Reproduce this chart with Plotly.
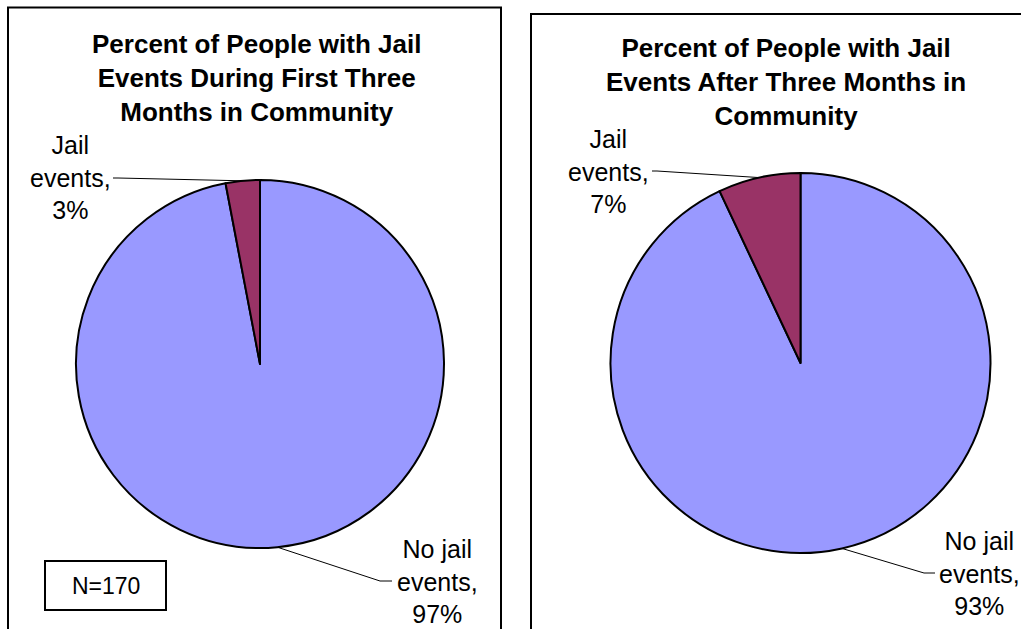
import math
import plotly.graph_objects as go

W, H = 1021, 629

# Slice data, listed in clockwise order from 12 o'clock
categories = ["No jail events", "Jail events"]
first_three_months = [97, 3]
after_three_months = [93, 7]
slice_colors = ["#9999FF", "#993366"]

titles = [
    "Percent of People with Jail<br>Events During First Three<br>Months in Community",
    "Percent of People with Jail<br>Events After Three Months in<br>Community",
]
label_lines = {"No jail events": "No jail<br>events,", "Jail events": "Jail<br>events,"}
sample_note = "N=170"

FONT = "Liberation Sans, Arial, sans-serif"


def fx(px):
    return px / W


def fy(py):
    return 1 - py / H


# Pie layout (pixel centre and radius) for each panel
panels = [
    dict(values=first_three_months, cx=260, cy=364, r=184, title=titles[0], title_x=256, title_y=78,
         labels={"Jail events": dict(x=70, y=178, stub=(113, 118)),
                 "No jail events": dict(x=437, y=581, stub=(392, 380))}),
    dict(values=after_three_months, cx=800.5, cy=363, r=190, title=titles[1], title_x=786, title_y=82,
         labels={"Jail events": dict(x=608, y=171, stub=(652, 657)),
                 "No jail events": dict(x=979, y=573, stub=(935, 924))}),
]

fig = go.Figure()
annotations = []
shapes = []

# Panel frames
shapes.append(dict(type="rect", xref="paper", yref="paper", x0=fx(8), x1=fx(501), y0=fy(660), y1=fy(7.5),
                   line=dict(color="black", width=2), layer="below"))
shapes.append(dict(type="rect", xref="paper", yref="paper", x0=fx(531), x1=fx(1060), y0=fy(660), y1=fy(14),
                   line=dict(color="black", width=2), layer="below"))

for p in panels:
    cx, cy, r = p["cx"], p["cy"], p["r"]
    fig.add_trace(go.Pie(
        labels=categories,
        values=p["values"],
        sort=False,
        direction="clockwise",
        rotation=0,
        marker=dict(colors=slice_colors, line=dict(color="black", width=2)),
        textinfo="none",
        hoverinfo="label+percent",
        showlegend=False,
        domain=dict(x=[fx(cx - r), fx(cx + r)], y=[fy(cy + r), fy(cy - r)]),
    ))

    annotations.append(dict(text=p["title"], x=fx(p["title_x"]), y=fy(p["title_y"]), xref="paper", yref="paper",
                            showarrow=False, xanchor="center", yanchor="middle",
                            font=dict(family=FONT, size=26, color="black", weight="bold")))

    total = sum(p["values"])
    start = 0.0
    for cat, val in zip(categories, p["values"]):
        mid = (start + val / 2) / total * 2 * math.pi
        start += val
        ex = cx + r * math.sin(mid)
        ey = cy - r * math.cos(mid)
        lab = p["labels"][cat]
        annotations.append(dict(text=f"{label_lines[cat]}<br>{val}%", x=fx(lab["x"]), y=fy(lab["y"]),
                                xref="paper", yref="paper", showarrow=False,
                                xanchor="center", yanchor="middle",
                                font=dict(family=FONT, size=25, color="black")))
        s0, s1 = lab["stub"]
        ly = lab["y"]
        path = f"M {fx(s0)},{fy(ly)} L {fx(s1)},{fy(ly)} L {fx(ex)},{fy(ey)}"
        shapes.append(dict(type="path", xref="paper", yref="paper", path=path,
                           line=dict(color="black", width=1), layer="below"))

# Sample size box
annotations.append(dict(text=sample_note, x=fx(105.5), y=fy(585.5), xref="paper", yref="paper",
                        showarrow=False, xanchor="center", yanchor="middle",
                        font=dict(family=FONT, size=23, color="black")))
shapes.append(dict(type="rect", xref="paper", yref="paper", x0=fx(45), x1=fx(166), y0=fy(610), y1=fy(561),
                   line=dict(color="black", width=2), fillcolor="white", layer="below"))

fig.update_layout(
    width=W, height=H,
    margin=dict(l=0, r=0, t=0, b=0),
    paper_bgcolor="white",
    plot_bgcolor="white",
    annotations=annotations,
    shapes=shapes,
)

fig.write_html("out.html")
